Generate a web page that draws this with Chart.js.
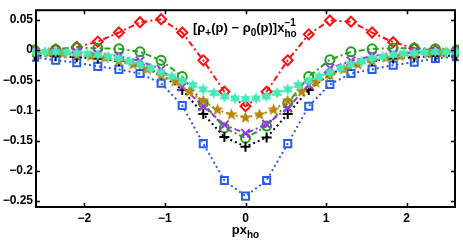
<!DOCTYPE html>
<html><head><meta charset="utf-8">
<script src="https://cdn.jsdelivr.net/npm/chart.js@4.4.1/dist/chart.umd.min.js"></script>
<style>html,body{margin:0;padding:0;background:#fff;}canvas{display:block;}</style>
</head><body>
<canvas id="c" width="463" height="245"></canvas>
<script>
// x positions (pi/12, pi/18, pi/24 spacing)
const xCoarse = [-2.618,-2.356,-2.094,-1.833,-1.571,-1.309,-1.047,-0.785,-0.524,-0.262,0,0.262,0.524,0.785,1.047,1.309,1.571,1.833,2.094,2.356,2.618];
const xMid = [-2.618,-2.443,-2.269,-2.094,-1.920,-1.745,-1.571,-1.396,-1.222,-1.047,-0.873,-0.698,-0.524,-0.349,-0.175,0,0.175,0.349,0.524,0.698,0.873,1.047,1.222,1.396,1.571,1.745,1.920,2.094,2.269,2.443,2.618];
const xFine = [-2.618,-2.487,-2.356,-2.225,-2.094,-1.963,-1.833,-1.702,-1.571,-1.440,-1.309,-1.178,-1.047,-0.916,-0.785,-0.654,-0.524,-0.393,-0.262,-0.131,0,0.131,0.262,0.393,0.524,0.654,0.785,0.916,1.047,1.178,1.309,1.440,1.571,1.702,1.833,1.963,2.094,2.225,2.356,2.487,2.618];

const redVals    = [-0.002,0.001,0.005,0.014,0.029,0.046,0.051,0.029,-0.017,-0.069,-0.093,-0.069,-0.017,0.026,0.049,0.047,0.029,0.013,0.003,-0.001,-0.002];
const blueVals   = [-0.012,-0.017,-0.021,-0.027,-0.032,-0.039,-0.055,-0.092,-0.155,-0.216,-0.242,-0.216,-0.155,-0.093,-0.057,-0.039,-0.032,-0.025,-0.020,-0.014,-0.011];
const greenVals  = [0.000,0.001,0.004,0.003,0.002,-0.003,-0.017,-0.044,-0.088,-0.129,-0.146,-0.126,-0.088,-0.044,-0.016,-0.003,0.002,0.003,0.003,0.002,0.000];
const blackVals  = [-0.009,-0.010,-0.012,-0.014,-0.018,-0.026,-0.040,-0.066,-0.106,-0.144,-0.160,-0.145,-0.106,-0.066,-0.040,-0.026,-0.018,-0.014,-0.012,-0.010,-0.009];
const purpleVals = [-0.003,-0.003,-0.004,-0.006,-0.010,-0.018,-0.032,-0.061,-0.093,-0.124,-0.138,-0.123,-0.096,-0.058,-0.030,-0.018,-0.010,-0.006,-0.004,-0.003,-0.003];
const brownVals  = [-0.005,-0.005,-0.006,-0.008,-0.010,-0.013,-0.018,-0.024,-0.032,-0.042,-0.052,-0.069,-0.084,-0.099,-0.107,-0.112,-0.107,-0.099,-0.084,-0.069,-0.054,-0.042,-0.032,-0.024,-0.018,-0.013,-0.010,-0.008,-0.006,-0.005,-0.005];
const cyanVals   = [-0.003,-0.003,-0.003,-0.004,-0.005,-0.006,-0.008,-0.011,-0.014,-0.019,-0.024,-0.030,-0.037,-0.044,-0.051,-0.058,-0.065,-0.071,-0.077,-0.080,-0.081,-0.080,-0.077,-0.071,-0.065,-0.058,-0.051,-0.044,-0.037,-0.030,-0.024,-0.019,-0.014,-0.011,-0.008,-0.006,-0.005,-0.004,-0.003,-0.003,-0.003];

const xTickValues = [-2,-1,0,1,2];
const xTickLabels = ['\u22122','\u22121','0','1','2'];
const yTickValues = [-0.25,-0.2,-0.15,-0.1,-0.05,0,0.05];
const yTickLabels = ['\u22120.25','\u22120.2','\u22120.15','\u22120.1','\u22120.05','0','0.05'];

function starImage(color, points, rOut, rIn) {
  const s = Math.ceil(rOut*2)+2;
  const cv = document.createElement('canvas');
  cv.width = s; cv.height = s;
  const g = cv.getContext('2d');
  g.fillStyle = color;
  g.beginPath();
  for (let i = 0; i < points*2; i++) {
    const r = i%2===0 ? rOut : rIn;
    const a = -Math.PI/2 + i*Math.PI/points;
    const px = s/2 + r*Math.cos(a), py = s/2 + r*Math.sin(a);
    if (i===0) g.moveTo(px,py); else g.lineTo(px,py);
  }
  g.closePath(); g.fill();
  return cv;
}

const pts = (xs, ys) => xs.map((x,i)=>({x:x, y:ys[i]}));
const DOT = [2,3], DASHDOT = [6,3,2,3];
function ds(xs, ys, color, style, radius, dash, order) {
  return {
    data: pts(xs, ys), showLine: true, borderColor: color, backgroundColor: 'rgba(0,0,0,0)',
    borderWidth: 2, borderDash: dash, pointStyle: style, pointRadius: radius,
    pointBorderColor: color, pointBorderWidth: 2, pointBackgroundColor: 'rgba(0,0,0,0)',
    tension: 0, clip: 4, order: order
  };
}

// lower order is drawn on top
const datasets = [
  ds(xCoarse, redVals, '#ff1010', 'rectRot', 5, DASHDOT, 7),
  ds(xCoarse, blueVals, '#2a5cf0', 'rect', 5, DOT, 6),
  ds(xCoarse, greenVals, '#22a01a', 'circle', 4.5, DASHDOT, 5),
  ds(xCoarse, blackVals, '#000000', 'cross', 5, DOT, 4),
  ds(xCoarse, purpleVals, '#9a30f0', 'crossRot', 6, DASHDOT, 3),
  ds(xMid, brownVals, '#b8860b', starImage('#b8860b',5,6.5,2.7), 6, DOT, 2),
  ds(xFine, cyanVals, '#45eab8', starImage('#45eab8',6,6,3.1), 5, DOT, 1)
];

function richText(ctx, parts, x, y) {
  let cx = x;
  for (const p of parts) {
    ctx.font = p.font;
    ctx.fillText(p.t, cx, y + (p.dy||0));
    cx += ctx.measureText(p.t).width;
  }
  return cx;
}

const framePlugin = {
  id: 'frame',
  afterDraw(chart) {
    const ctx = chart.ctx, a = chart.chartArea;
    const xs = chart.scales.x, ys = chart.scales.y;
    ctx.save();
    ctx.strokeStyle = '#000'; ctx.lineWidth = 2; ctx.setLineDash([]);
    ctx.strokeRect(a.left, a.top, a.right - a.left, a.bottom - a.top);
    ctx.lineWidth = 1.5;
    const tl = 4;
    ctx.beginPath();
    for (const v of xTickValues) {
      const px = Math.round(xs.getPixelForValue(v)) + 0.5;
      ctx.moveTo(px, a.bottom); ctx.lineTo(px, a.bottom - tl);
      ctx.moveTo(px, a.top); ctx.lineTo(px, a.top + tl);
    }
    for (const v of yTickValues) {
      const py = Math.round(ys.getPixelForValue(v)) + 0.5;
      ctx.moveTo(a.left, py); ctx.lineTo(a.left + tl, py);
      ctx.moveTo(a.right, py); ctx.lineTo(a.right - tl, py);
    }
    ctx.stroke();
    // annotation text
    ctx.fillStyle = '#000'; ctx.textBaseline = 'alphabetic'; ctx.textAlign = 'left';
    const F = 'bold 13px "Liberation Sans", Arial, sans-serif';
    const S = 'bold 10px "Liberation Sans", Arial, sans-serif';
    let cx = richText(ctx, [
      {t:'[\u03c1', font:F}, {t:'+', font:S, dy:4}, {t:'(p) \u2212 \u03c1', font:F},
      {t:'0', font:S, dy:4}, {t:'(p)]x', font:F}
    ], 193, 32);
    ctx.font = S;
    ctx.fillText('\u22121', cx, 26);
    ctx.fillText('ho', cx, 37);
    // x axis label
    const lf = 'bold 13px "Liberation Sans", Arial, sans-serif';
    const sf = 'bold 10px "Liberation Sans", Arial, sans-serif';
    ctx.font = lf; const w1 = ctx.measureText('px').width;
    ctx.font = sf; const w2 = ctx.measureText('ho').width;
    const x0 = xs.getPixelForValue(0) - (w1 + w2)/2;
    richText(ctx, [{t:'px', font:lf}, {t:'ho', font:sf, dy:4}], x0, 234);
    ctx.restore();
  }
};

const tickFont = {family: '"Liberation Sans", Arial, sans-serif', size: 12, weight: 'bold'};
new Chart(document.getElementById('c'), {
  type: 'scatter',
  data: {datasets},
  options: {
    responsive: false, animation: false, devicePixelRatio: 1,
    layout: {padding: {top: 7, right: 6, left: 0, bottom: 0}},
    plugins: {legend: {display: false}, tooltip: {enabled: false}},
    scales: {
      x: {
        type: 'linear', min: -2.6, max: 2.6,
        grid: {display: false, drawTicks: false}, border: {display: false},
        ticks: {font: tickFont, color: '#000', padding: 4, maxRotation: 0, autoSkip: false,
                callback: (v, i) => xTickLabels[i]},
        afterBuildTicks: s => { s.ticks = xTickValues.map(v => ({value: v})); },
        afterFit: s => { s.height = 38; }
      },
      y: {
        type: 'linear', min: -0.26, max: 0.066,
        grid: {display: false, drawTicks: false}, border: {display: false},
        ticks: {font: tickFont, color: '#000', padding: 3, autoSkip: false,
                callback: (v, i) => yTickLabels[i]},
        afterBuildTicks: s => { s.ticks = yTickValues.map(v => ({value: v})); },
        afterFit: s => { s.width = 36; }
      }
    }
  },
  plugins: [framePlugin]
});
</script>
</body></html>
